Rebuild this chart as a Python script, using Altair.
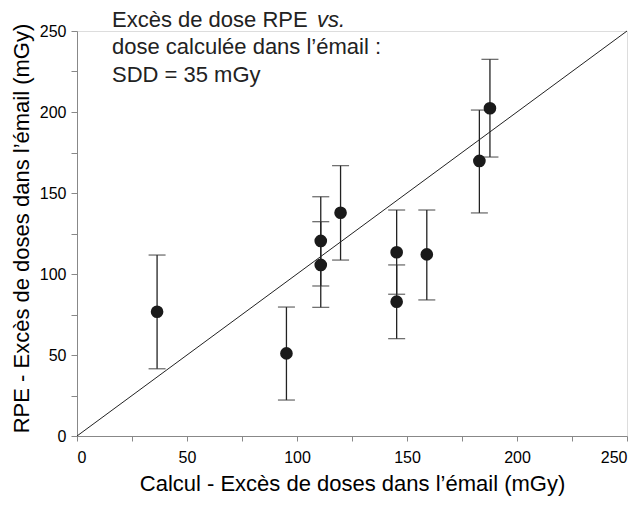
import altair as alt
import pandas as pd

# Data
calc = [36.4, 95.2, 110.8, 110.8, 119.8, 145.3, 145.3, 159.0, 182.9, 187.7]
rpe = [76.7, 51.0, 120.4, 105.6, 137.8, 113.4, 82.9, 112.1, 169.8, 202.3]
rpe_low = [41.5, 22.2, 92.6, 79.4, 108.6, 87.5, 60.1, 84.0, 137.7, 172.2]
rpe_high = [111.7, 79.6, 147.7, 132.3, 166.9, 139.5, 105.6, 139.5, 201.2, 232.5]
diag = [0, 250]
tick_values = [0, 25, 50, 75, 100, 125, 150, 175, 200, 225, 250]

x_title = "Calcul - Excès de doses dans l\u2019émail (mGy)"
y_title = "RPE - Excès de doses dans l\u2019émail (mGy)"
note_line1 = "Excès de dose RPE"
note_vs = "vs."
note_line2 = "dose calculée dans l\u2019émail :"
note_line3 = "SDD = 35 mGy"

df = pd.DataFrame({"calc": calc, "rpe": rpe, "low": rpe_low, "high": rpe_high})
diag_df = pd.DataFrame({"x": diag, "y": diag})

FONT = "Liberation Sans"
label_expr = "datum.value % 50 == 0 ? datum.label : ''"

xscale = alt.Scale(domain=[0, 250], nice=False)
yscale = alt.Scale(domain=[0, 250], nice=False)

xaxis = alt.Axis(values=tick_values, labelExpr=label_expr, title=x_title,
                 grid=False, tickSize=5, labelPadding=8, titlePadding=8,
                 labelFontSize=16, titleFontSize=22, titleFontWeight="normal")
yaxis = alt.Axis(values=tick_values, labelExpr=label_expr, title=y_title,
                 grid=False, tickSize=6, labelPadding=5, titlePadding=6,
                 labelFontSize=16, titleFontSize=22, titleFontWeight="normal",
                 titleY=197)

line = alt.Chart(diag_df).mark_line(color="#222", strokeWidth=1).encode(
    x=alt.X("x:Q", scale=xscale, axis=xaxis),
    y=alt.Y("y:Q", scale=yscale, axis=yaxis),
)

base = alt.Chart(df)
bars = base.mark_rule(color="#222", strokeWidth=1.3).encode(
    x=alt.X("calc:Q", scale=xscale),
    y=alt.Y("low:Q", scale=yscale),
    y2="high:Q",
)
cap_lo = base.mark_tick(orient="horizontal", size=17, thickness=1.3, color="#333").encode(
    x=alt.X("calc:Q", scale=xscale),
    y=alt.Y("low:Q", scale=yscale),
)
cap_hi = base.mark_tick(orient="horizontal", size=17, thickness=1.3, color="#333").encode(
    x=alt.X("calc:Q", scale=xscale),
    y=alt.Y("high:Q", scale=yscale),
)
points = base.mark_circle(size=160, color="#1a1a1a", opacity=1).encode(
    x=alt.X("calc:Q", scale=xscale),
    y=alt.Y("rpe:Q", scale=yscale),
)

def note(txt, x, y, style="normal"):
    return alt.Chart(pd.DataFrame({"t": [txt]})).mark_text(
        align="left", baseline="alphabetic", fontSize=22, font=FONT,
        fontStyle=style, color="#222",
    ).encode(text="t:N", x=alt.value(x), y=alt.value(y))

notes = (note(note_line1, 35, -4) + note(note_vs, 240, -4, "italic")
         + note(note_line2, 35, 23) + note(note_line3, 35, 51))

chart = alt.layer(line, bars, cap_lo, cap_hi, points, notes).properties(
    width=550, height=405,
    padding={"left": 69, "top": 23, "right": 6, "bottom": 62},
    autosize=alt.AutoSizeParams(type="none"),
).configure_view(stroke=None).configure_axis(
    domainColor="#555", tickColor="#555", domainWidth=1.5, tickWidth=1.2,
    labelColor="#222", titleColor="#222", labelFont=FONT, titleFont=FONT,
).configure(font=FONT)

chart.save("out.html", embed_options={"renderer": "svg", "actions": False})
